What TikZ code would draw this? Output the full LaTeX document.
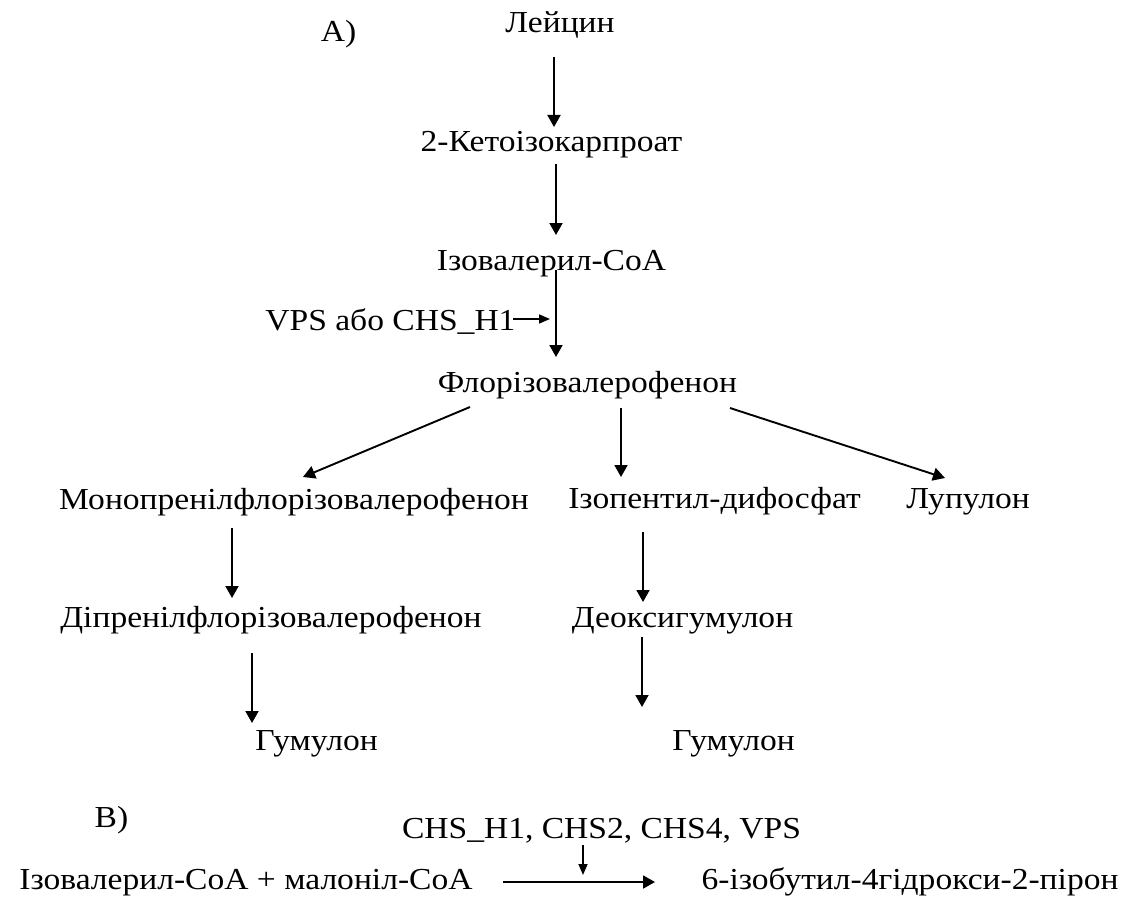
\documentclass[tikz,border=0pt]{standalone}
\usepackage{fontspec}
\setmainfont{Liberation Serif}[FakeStretch=1.1]
\usetikzlibrary{arrows.meta}
\begin{document}
\begin{tikzpicture}[x=1pt,y=-1pt,
  lbl/.style={anchor=base,inner sep=0pt,font=\fontsize{30.5}{36}\selectfont},
  arr/.style={line width=1.9pt,-{Triangle[width=13pt,length=12pt]}},
  sarr/.style={line width=1.6pt,-{Triangle[width=9pt,length=11pt]}}]
\useasboundingbox[fill=white] (0,0) rectangle (1134,896);

% pathway A
\node[lbl] (la)   at (338.5,42)  {А)};
\node[lbl] (lei)  at (560,33)    {Лейцин};
\node[lbl] (ket)  at (551.5,152) {2-Кетоізокарпроат};
\node[lbl] (iso)  at (551.5,270) {Ізовалерил-CoA};
\node[lbl] (vps)  at (390.5,330) {VPS або CHS\_H1};
\node[lbl] (flo)  at (587.5,392) {Флорізовалерофенон};
\node[lbl] (mono) at (294,509)   {Монопренілфлорізовалерофенон};
\node[lbl] (ipp)  at (714.5,508) {Ізопентил-дифосфат};
\node[lbl] (lup)  at (968,508)   {Лупулон};
\node[lbl] (dip)  at (271,627)   {Діпренілфлорізовалерофенон};
\node[lbl] (deo)  at (682.5,627) {Деоксигумулон};
\node[lbl] (hum1) at (316.5,750) {Гумулон};
\node[lbl] (hum2) at (733.5,750) {Гумулон};

\draw[arr] ([shift={(-6,24)}]lei.base) -- ([shift={(2.5,-25)}]ket.base);
\draw[arr] ([shift={(4.5,12)}]ket.base) -- ([shift={(4.5,-35)}]iso.base);
\draw[arr] ([shift={(4.5,0)}]iso.base) -- ([shift={(-31.5,-35)}]flo.base);
\draw[sarr] ([shift={(122.5,-11)}]vps.base) -- ([shift={(159.5,-11)}]vps.base);
\draw[arr] ([shift={(-117.5,15)}]flo.base) -- ([shift={(9,-32)}]mono.base);
\draw[arr] ([shift={(33.5,16)}]flo.base) -- ([shift={(-93.5,-31)}]ipp.base);
\draw[arr] ([shift={(142.5,16)}]flo.base) -- ([shift={(-23,-30)}]lup.base);
\draw[arr] ([shift={(-62,19)}]mono.base) -- ([shift={(-39,-29)}]dip.base);
\draw[arr] ([shift={(-71.5,24)}]ipp.base) -- ([shift={(-39.5,-25)}]deo.base);
\draw[arr] ([shift={(-19,26)}]dip.base) -- ([shift={(-64.5,-27)}]hum1.base);
\draw[arr] ([shift={(-40.5,10)}]deo.base) -- ([shift={(-91.5,-43)}]hum2.base);

% reaction B
\node[lbl] (lb)  at (111.5,827) {В)};
\node[lbl] (chs) at (601.5,838) {CHS\_H1, CHS2, CHS4, VPS};
\node[lbl] (lhs) at (246,889)   {Ізовалерил-CoA + малоніл-CoA};
\node[lbl] (rhs) at (910,889)   {6-ізобутил-4гідрокси-2-пірон};

\draw[arr] ([shift={(257,-7)}]lhs.base) -- ([shift={(-255,-7)}]rhs.base);
\draw[sarr] ([shift={(-18.5,7)}]chs.base) -- ([shift={(-18.5,37)}]chs.base);
\end{tikzpicture}
\end{document}
